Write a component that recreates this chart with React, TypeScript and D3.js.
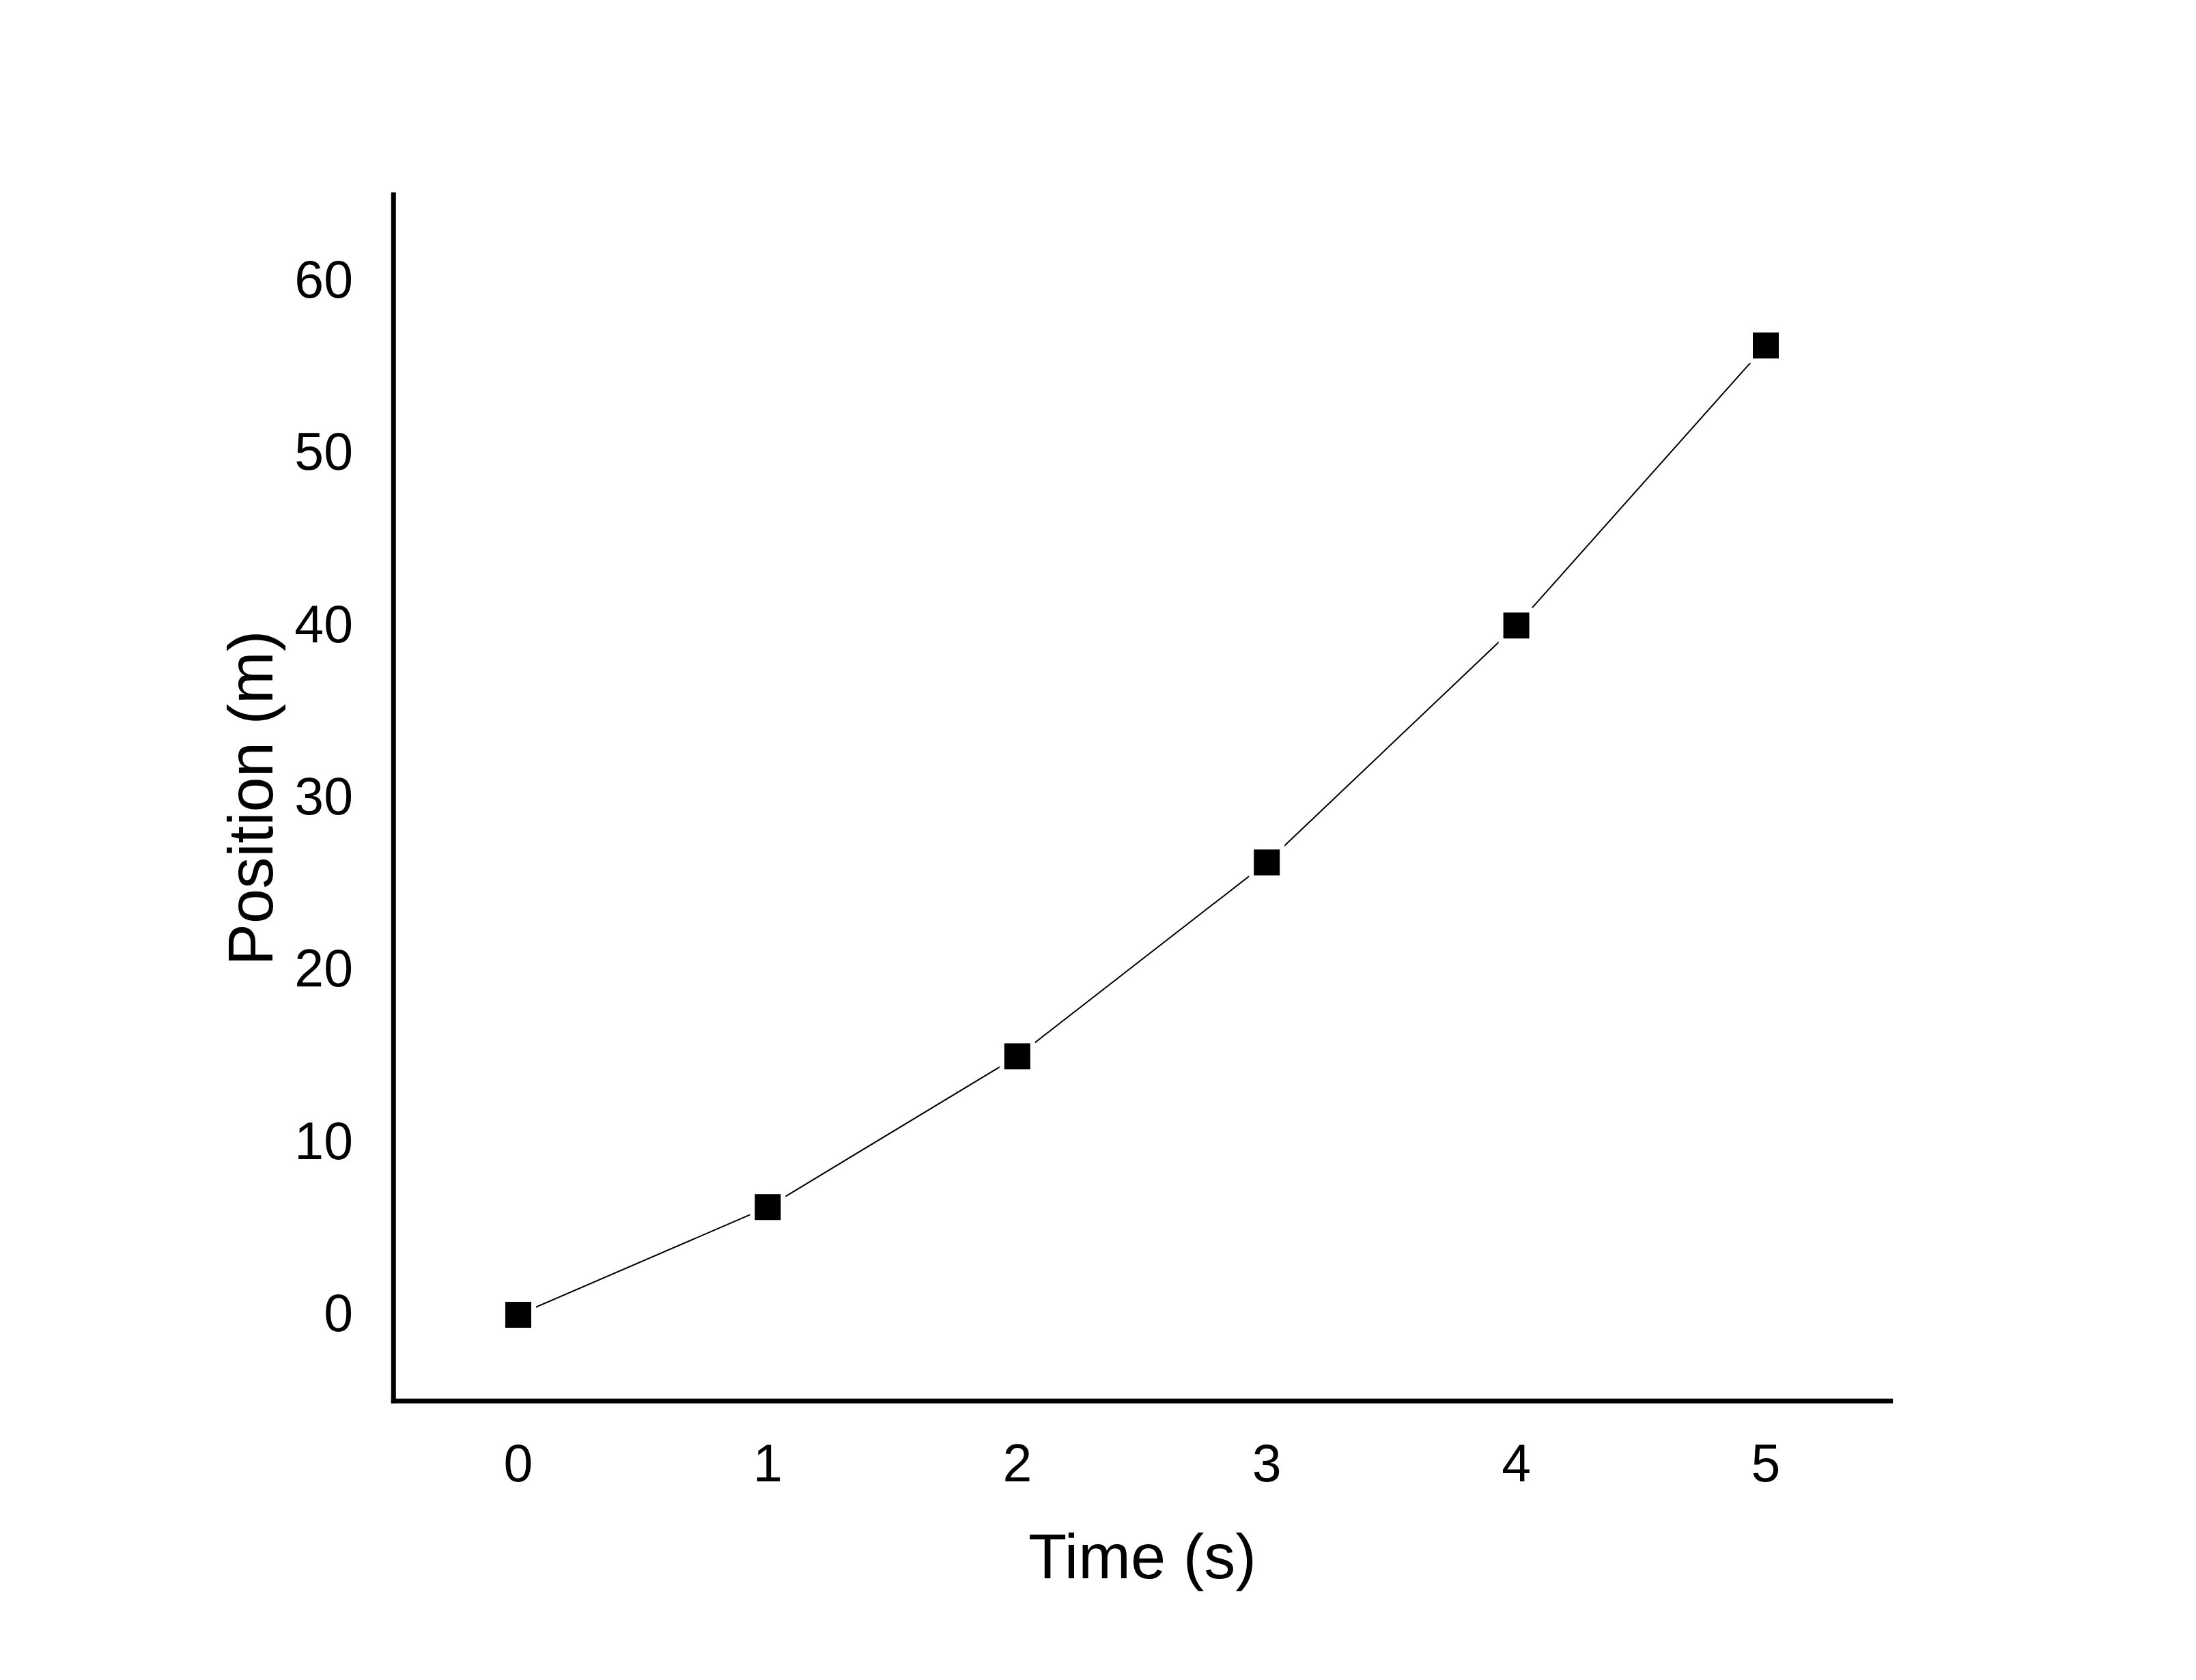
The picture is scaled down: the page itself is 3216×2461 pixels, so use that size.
import React from "react";
import * as d3 from "d3";

const times = [0, 1, 2, 3, 4, 5];
const positions = [0, 6.25, 15, 26.25, 40, 56.25];
const xTicks = [0, 1, 2, 3, 4, 5];
const yTicks = [0, 10, 20, 30, 40, 50, 60];
const xLabel = "Time (s)";
const yLabel = "Position (m)";

const W = 3216;
const H = 2461;
const FONT = "'Liberation Sans', Arial, Helvetica, sans-serif";

export default function App() {
  const x = d3.scaleLinear().domain([-0.5, 5.5]).range([576.3, 2768.7]);
  const y = d3.scaleLinear().domain([-5, 65]).range([2052.2, 285.3]);
  const data = times.map((t, i) => ({ t, p: positions[i] }));
  const line = d3
    .line<{ t: number; p: number }>()
    .x((d) => x(d.t))
    .y((d) => y(d.p));
  const ms = 38;
  const halo = 7;
  const x0 = x(-0.5);
  const x1 = x(5.5);
  const y0 = y(-5);
  const y1 = y(65);
  return (
    <svg
      width={W}
      height={H}
      style={{ position: "absolute", left: 0, top: 0, background: "#fff" }}
      fontFamily={FONT}
    >
      <rect x={0} y={0} width={W} height={H} fill="#fff" />
      <path d={line(data) || ""} fill="none" stroke="#000" strokeWidth={2} />
      {data.map((d, i) => (
        <rect
          key={"h" + i}
          x={x(d.t) - ms / 2 - halo}
          y={y(d.p) - ms / 2 - halo}
          width={ms + 2 * halo}
          height={ms + 2 * halo}
          fill="#fff"
        />
      ))}
      {data.map((d, i) => (
        <rect
          key={"m" + i}
          x={x(d.t) - ms / 2}
          y={y(d.p) - ms / 2}
          width={ms}
          height={ms}
          fill="#000"
        />
      ))}
      <line x1={x0} y1={y1 - 3.5} x2={x0} y2={y0 + 3.5} stroke="#000" strokeWidth={7} />
      <line x1={x0 - 3.5} y1={y0} x2={x1 + 3.5} y2={y0} stroke="#000" strokeWidth={7} />
      {yTicks.map((v) => (
        <text
          key={"y" + v}
          x={517}
          y={y(v) - 3}
          dy="0.355em"
          textAnchor="end"
          fontSize={77}
          fill="#000"
        >
          {v}
        </text>
      ))}
      {xTicks.map((v) => (
        <text
          key={"x" + v}
          x={x(v)}
          y={2170}
          textAnchor="middle"
          fontSize={77}
          fill="#000"
        >
          {v}
        </text>
      ))}
      <text x={1673} y={2312} textAnchor="middle" fontSize={92} fill="#000">
        {xLabel}
      </text>
      <text
        transform={`translate(399, 1169) rotate(-90)`}
        textAnchor="middle"
        fontSize={92}
        fill="#000"
      >
        {yLabel}
      </text>
    </svg>
  );
}
